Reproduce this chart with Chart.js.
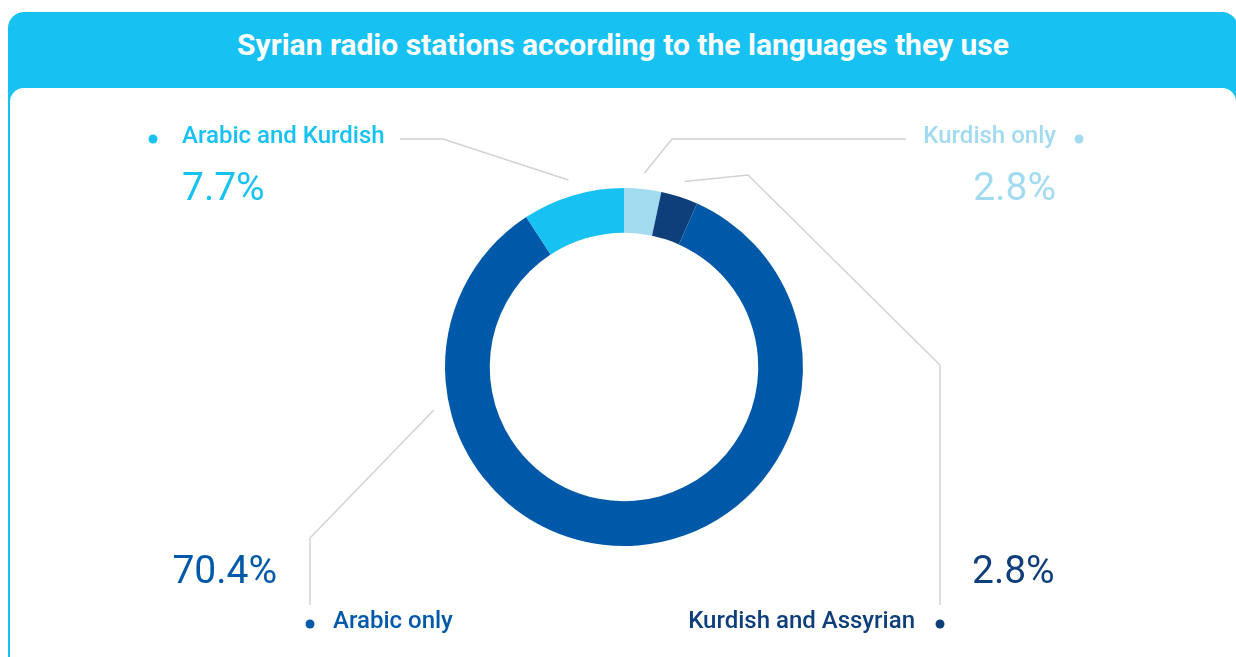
<!DOCTYPE html>
<html>
<head>
<meta charset="utf-8">
<script src="https://cdn.jsdelivr.net/npm/chart.js@4.4.1/dist/chart.umd.min.js"></script>
<style>
  html, body { margin: 0; padding: 0; background: #fff; }
  .page { position: relative; width: 1236px; height: 657px; overflow: hidden; }
  .panel { position: absolute; left: 8px; top: 12px; width: 1230px; height: 720px;
           background: #17c1f2; border-radius: 16px; }
  .panel h1 { margin: 0; height: 76px; text-align: center; color: #fff;
              font: bold 30px Roboto, "Noto Sans", sans-serif; line-height: 66px; }
  .inner { position: absolute; left: 2px; top: 76px; right: 2px; bottom: 0;
           background: #fff; border-radius: 14px; }
  #langChart { position: absolute; left: 0; top: 0; }
</style>
</head>
<body>
<div class="page">
  <div class="panel">
    <h1>Syrian radio stations according to the languages they use</h1>
    <div class="inner"></div>
  </div>
  <canvas id="langChart" width="1236" height="657"></canvas>
</div>
<script>
const categories = ["Kurdish only", "Kurdish and Assyrian", "Arabic only", "Arabic and Kurdish"];
const shares = [2.8, 2.8, 70.4, 7.7];
const colours = ["#a2dbf0", "#0e3f7b", "#0059a8", "#17c1f2"];

// where each label sits and how its leader line runs
const callouts = [
  { t: 0.5,  align: "right", dotX: 1079, textX: 1056, nameY: 137, pctY: 190, path: [[672, 139], [906, 139]] },
  { t: 0.5,  align: "right", dotX: 940,  textX: 915,  nameY: 622, pctY: 573, pctX: 972, pctAlign: "left",
    path: [[748, 175], [940, 365], [940, 605]] },
  { t: 0.77, align: "left",  dotX: 310,  textX: 333,  nameY: 622, pctY: 573, pctX: 277, pctAlign: "right",
    path: [[310, 538], [310, 605]] },
  { t: 0.5,  align: "left",  dotX: 153,  textX: 182,  nameY: 137, pctY: 190, path: [[443, 139], [400, 139]] }
];

const calloutPlugin = {
  id: "callouts",
  afterDatasetsDraw(chart) {
    const ctx = chart.ctx;
    const meta = chart.getDatasetMeta(0);
    meta.data.forEach((arc, i) => {
      const c = callouts[i];
      const p = arc.getProps(["x", "y", "startAngle", "endAngle", "outerRadius"], true);
      const a = p.startAngle + (p.endAngle - p.startAngle) * c.t;
      const r = p.outerRadius + 16;
      ctx.save();
      ctx.strokeStyle = "#d2d2d2";
      ctx.lineWidth = 1.5;
      ctx.beginPath();
      ctx.moveTo(p.x + r * Math.cos(a), p.y + r * Math.sin(a));
      c.path.forEach(pt => ctx.lineTo(pt[0], pt[1]));
      ctx.stroke();

      ctx.fillStyle = colours[i];
      ctx.beginPath();
      ctx.arc(c.dotX, c.nameY + 2, 4.5, 0, Math.PI * 2);
      ctx.fill();

      ctx.textBaseline = "middle";
      ctx.font = "500 24px Roboto, 'Noto Sans', sans-serif";
      ctx.textAlign = c.align;
      ctx.fillText(categories[i], c.textX, c.nameY);

      ctx.font = "39px Roboto, 'Noto Sans', sans-serif";
      ctx.textAlign = c.pctAlign || c.align;
      ctx.fillText(shares[i].toFixed(1) + "%", c.pctX || c.textX, c.pctY);
      ctx.restore();
    });
  }
};

new Chart(document.getElementById("langChart"), {
  type: "doughnut",
  data: {
    labels: categories,
    datasets: [{
      data: shares,
      backgroundColor: colours,
      borderWidth: 0
    }]
  },
  options: {
    responsive: false,
    animation: false,
    cutout: "75%",
    layout: { padding: { left: 12, right: 0, top: 188, bottom: 111 } },
    plugins: { legend: { display: false }, tooltip: { enabled: false } }
  },
  plugins: [calloutPlugin]
});
</script>
</body>
</html>
